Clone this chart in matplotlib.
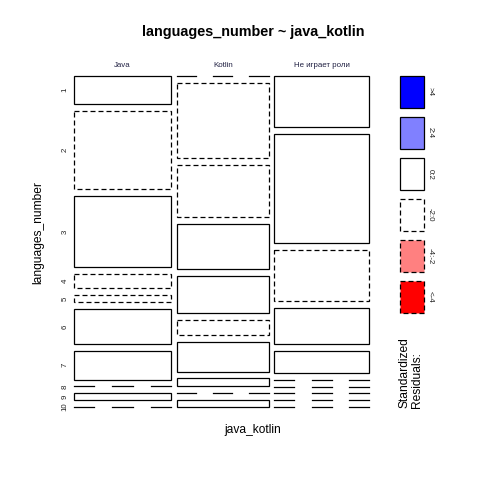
import numpy as np
import matplotlib
matplotlib.use('Agg')
import matplotlib.pyplot as plt
from matplotlib.patches import Rectangle

plt.rcParams['font.family'] = ['Liberation Sans', 'DejaVu Sans']

# contingency table: languages_number ~ java_kotlin
row_labels = ['1', '2', '3', '4', '5', '6', '7', '8', '9', '10']
col_labels = ['Java', 'Kotlin', 'Не играет роли']
java = [4, 11, 10, 2, 1, 5, 4, 0, 1, 0]
kotlin = [0, 10, 7, 6, 5, 2, 4, 1, 0, 1]
other = [7, 15, 7, 5, 3, 0, 0, 0, 0, 0]

legend_labels = ['>4', '2:4', '0:2', '-2:0', '-4:-2', '<-4']
legend_colors = ['#0000FF', '#8080FF', 'white', 'white', '#FF8080', '#FF0000']

counts = np.array([java, kotlin, other], dtype=float)
N = counts.sum()
col_tot = counts.sum(axis=1)
row_tot = counts.sum(axis=0)
expected = np.outer(col_tot, row_tot) / N
resid = (counts - expected) / np.sqrt(expected)

LW = 0.9
DASH = (0, (4, 2.4))


def shade(r):
    # same bins as R mosaicplot(shade=TRUE)
    if r > 4:
        return '#0000FF'
    if r > 2:
        return '#8080FF'
    if r < -4:
        return '#FF0000'
    if r < -2:
        return '#FF8080'
    return 'white'


fig = plt.figure(figsize=(4.8, 4.8), dpi=100)

# main mosaic area
ax = fig.add_axes([74 / 480, (480 - 407) / 480, 295 / 480, 331 / 480])
ax.set_xlim(0, 1)
ax.set_ylim(1, 0)
ax.axis('off')

xgap = 5.5 / 295
ygap = 6.8 / 331
h_avail = 1 - (len(row_labels) - 1) * ygap

x0 = 0
for j, name in enumerate(col_labels):
    w = (1 - (len(col_labels) - 1) * xgap) * col_tot[j] / N
    y0 = 0
    for i in range(len(row_labels)):
        h = h_avail * counts[j, i] / col_tot[j]
        if counts[j, i] == 0:
            # empty cell -> broken line
            for a, b in [(0, 0.21), (0.395, 0.605), (0.79, 1.0)]:
                ax.plot([x0 + a * w, x0 + b * w], [y0, y0], color='black', lw=LW, clip_on=False)
        else:
            ls = DASH if resid[j, i] < 0 else '-'
            ax.add_patch(Rectangle((x0, y0), w, h, facecolor=shade(resid[j, i]),
                                   edgecolor='black', lw=LW, linestyle=ls, clip_on=False))
        if j == 0:
            ax.text(-0.03, y0 + h / 2, row_labels[i], rotation=90, ha='center', va='center',
                    fontsize=5.7, color='#222222')
        y0 += h + ygap
    ax.text(x0 + w / 2, -0.033, name, ha='center', va='center', fontsize=5.7, color='#222244')
    x0 += w + xgap

# legend
lax = fig.add_axes([400 / 480, (480 - 322) / 480, 24 / 480, 246 / 480])
lax.set_xlim(0, 1)
lax.set_ylim(6, 0)
lax.axis('off')
for k, (lab, c) in enumerate(zip(legend_labels, legend_colors)):
    ls = DASH if lab.startswith('-') or lab.startswith('<') else '-'
    lax.add_patch(Rectangle((0, k), 1, 0.78, facecolor=c, edgecolor='black',
                            lw=LW, linestyle=ls, clip_on=False))
    lax.text(1.27, k + 0.39, lab, rotation=-90, ha='center', va='center', fontsize=5.7,
             color='#222222')

fig.text(411 / 480, 1 - 408 / 480, 'Standardized\nResiduals:', rotation=90,
         ha='center', va='bottom', multialignment='left', fontsize=8.64, linespacing=1.0)

fig.text(253 / 480, 1 - 32 / 480, 'languages_number ~ java_kotlin', ha='center', va='center',
         fontsize=10.4, fontweight='bold')
fig.text(253 / 480, 1 - 430 / 480, 'java_kotlin', ha='center', va='center', fontsize=8.64)
fig.text(38 / 480, 1 - 232 / 480, 'languages_number', rotation=90, ha='center', va='center',
         fontsize=8.64)

fig.savefig('out.png', dpi=100, facecolor='white')
